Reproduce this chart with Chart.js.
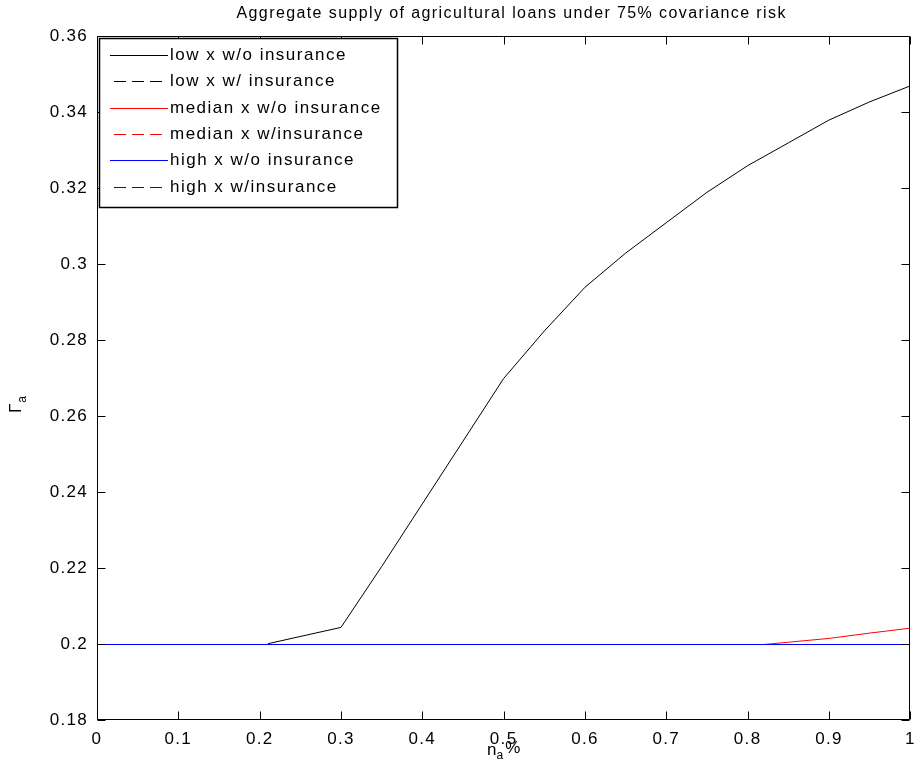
<!DOCTYPE html>
<html><head><meta charset="utf-8">
<script src="https://cdn.jsdelivr.net/npm/chart.js@4.4.1/dist/chart.umd.min.js"></script>
<style>html,body{margin:0;padding:0;background:#fff}#wrap{width:924px;height:759px}</style>
</head><body><div id="wrap"><canvas id="c" width="924" height="759"></canvas></div>
<script>
const titleText = 'Aggregate supply of agricultural loans under 75% covariance risk';
const xTitleMain = 'n', xTitleSub = 'a', xTitleTail = '%';
const yTitleMain = 'Γ', yTitleSub = 'a';
const xTicks = [0, 0.1, 0.2, 0.3, 0.4, 0.5, 0.6, 0.7, 0.8, 0.9, 1];
const yTicks = [0.18, 0.2, 0.22, 0.24, 0.26, 0.28, 0.3, 0.32, 0.34, 0.36];
const seriesNames = ['low x w/o insurance', 'low x w/ insurance', 'median x w/o insurance',
  'median x w/insurance', 'high x w/o insurance', 'high x w/insurance'];

const lowNoInsX = [0.21, 0.3, 0.35, 0.4, 0.45, 0.5, 0.55, 0.6, 0.65, 0.7, 0.75, 0.8, 0.85, 0.9, 0.95, 1.0];
const lowNoInsY = [0.2002, 0.2045, 0.2205, 0.2370, 0.2535, 0.2700, 0.2825, 0.2940, 0.3030, 0.3110, 0.3190, 0.3260, 0.3320, 0.3380, 0.3428, 0.3470];
const lowInsX = [0.21, 1.0];
const lowInsY = [0.2, 0.2];
const medNoInsX = [0.82, 0.85, 0.9, 0.95, 1.0];
const medNoInsY = [0.2, 0.2006, 0.2016, 0.2030, 0.2043];
const medInsX = [0.82, 1.0];
const medInsY = [0.2, 0.2];
const highNoInsX = [0, 1.0];
const highNoInsY = [0.2, 0.2];
const highInsX = [0, 1.0];
const highInsY = [0.2, 0.2];

const seriesX = [lowNoInsX, lowInsX, medNoInsX, medInsX, highNoInsX, highInsX];
const seriesY = [lowNoInsY, lowInsY, medNoInsY, medInsY, highNoInsY, highInsY];
const seriesColors = ['rgb(0,0,0)', 'rgb(0,0,0)', 'rgb(255,0,0)', 'rgb(255,0,0)', 'rgb(0,0,255)', 'rgb(0,0,255)'];
const seriesDash = [[], [12, 6], [], [12, 6], [], [12, 6]];

const FONT = '"Liberation Sans", Arial, Helvetica, sans-serif';

const datasets = seriesNames.map((name, i) => ({
  label: name,
  data: seriesX[i].map((x, j) => ({x: x, y: seriesY[i][j]})),
  borderColor: seriesColors[i],
  borderDash: seriesDash[i],
  borderWidth: 1,
  pointRadius: 0,
  fill: false,
  tension: 0,
  order: seriesNames.length - 1 - i
}));

function fmt(v) { return String(Number(v.toFixed(2))); }

const framePlugin = {
  id: 'matlabFrame',
  beforeDraw(chart) {
    chart.ctx.letterSpacing = '1.3px';
  },
  beforeDatasetsDraw(chart) {
    chart.ctx.save();
    chart.ctx.translate(0, 0.5);
  },
  afterDatasetsDraw(chart) {
    chart.ctx.restore();
  },
  afterDraw(chart) {
    const ctx = chart.ctx, a = chart.chartArea;
    const xs = chart.scales.x, ys = chart.scales.y;
    ctx.save();
    ctx.letterSpacing = '0px';
    ctx.strokeStyle = '#000';
    ctx.lineWidth = 1;
    ctx.setLineDash([]);
    ctx.beginPath();
    const L = Math.round(a.left) + 0.5, R = Math.round(a.right) - 0.5;
    const T = Math.round(a.top) + 0.5, B = Math.round(a.bottom) - 0.5;
    ctx.rect(L, T, R - L, B - T);
    const tl = 8;
    xTicks.forEach(v => {
      const px = Math.round(xs.getPixelForValue(v)) + 0.5;
      ctx.moveTo(px, B); ctx.lineTo(px, B - tl);
      ctx.moveTo(px, T); ctx.lineTo(px, T + tl);
    });
    yTicks.forEach(v => {
      const py = Math.round(ys.getPixelForValue(v)) + 0.5;
      ctx.moveTo(L, py); ctx.lineTo(L + tl, py);
      ctx.moveTo(R, py); ctx.lineTo(R - tl, py);
    });
    ctx.stroke();

    // title
    ctx.fillStyle = '#000';
    ctx.letterSpacing = '1.4px';
    ctx.font = '16px ' + FONT;
    ctx.textAlign = 'center';
    ctx.textBaseline = 'middle';
    ctx.fillText(titleText, (a.left + a.right) / 2 + 8, 14);

    // x title
    ctx.letterSpacing = '1px';
    ctx.textAlign = 'left';
    ctx.textBaseline = 'alphabetic';
    ctx.font = '17px ' + FONT;
    const x0 = 487;
    ctx.fillText(xTitleMain, x0, 755);
    const wn = ctx.measureText(xTitleMain).width;
    ctx.font = '12px ' + FONT;
    ctx.fillText(xTitleSub, x0 + wn - 1, 759);
    const wa = ctx.measureText(xTitleSub).width;
    ctx.font = '17px ' + FONT;
    ctx.fillText(xTitleTail, x0 + wn + wa, 753);

    // y title rotated
    ctx.save();
    ctx.translate(21, 413);
    ctx.rotate(-Math.PI / 2);
    ctx.letterSpacing = '0px';
    ctx.font = '17px ' + FONT;
    ctx.fillText(yTitleMain, 0, 0);
    const wg = ctx.measureText(yTitleMain).width;
    ctx.font = '12px ' + FONT;
    ctx.fillText(yTitleSub, wg + 1, 5);
    ctx.restore();

    // legend
    const lx = 99.5, ly = 38.5, lw = 298, lh = 169;
    ctx.fillStyle = '#fff';
    ctx.fillRect(lx, ly, lw, lh);
    ctx.lineWidth = 1.5;
    ctx.strokeStyle = '#000';
    ctx.strokeRect(lx, ly, lw, lh);
    ctx.font = '17px ' + FONT;
    ctx.letterSpacing = '1.5px';
    ctx.textBaseline = 'middle';
    ctx.textAlign = 'left';
    seriesNames.forEach((name, i) => {
      const y = Math.round(55 + i * 26.3) + 0.5;
      ctx.strokeStyle = seriesColors[i];
      ctx.lineWidth = 1;
      ctx.setLineDash(seriesDash[i]);
      ctx.beginPath();
      ctx.moveTo(seriesDash[i].length ? 114 : 110, y);
      ctx.lineTo(168, y);
      ctx.stroke();
      ctx.setLineDash([]);
      ctx.fillStyle = '#000';
      ctx.fillText(name, 170, y);
    });
    ctx.restore();
  }
};

new Chart(document.getElementById('c'), {
  type: 'line',
  data: { datasets: datasets },
  options: {
    responsive: false,
    animation: false,
    devicePixelRatio: 1,
    layout: { padding: { top: 36, right: 4, left: 0, bottom: 0 } },
    plugins: { legend: { display: false }, title: { display: false }, tooltip: { enabled: false } },
    scales: {
      x: {
        type: 'linear', min: 0, max: 1,
        afterBuildTicks: s => { s.ticks = xTicks.map(v => ({value: v})); },
        afterFit: s => { s.height = 39; },
        ticks: { callback: v => fmt(v), color: '#000', font: { family: FONT, size: 17 }, padding: 9, maxRotation: 0, autoSkip: false },
        grid: { display: false, drawTicks: false },
        border: { display: false }
      },
      y: {
        type: 'linear', min: 0.18, max: 0.36,
        afterBuildTicks: s => { s.ticks = yTicks.map(v => ({value: v})); },
        afterFit: s => { s.width = 97; },
        ticks: { callback: v => fmt(v), color: '#000', font: { family: FONT, size: 17 }, padding: 9, autoSkip: false },
        grid: { display: false, drawTicks: false },
        border: { display: false }
      }
    }
  },
  plugins: [framePlugin]
});
</script></body></html>
